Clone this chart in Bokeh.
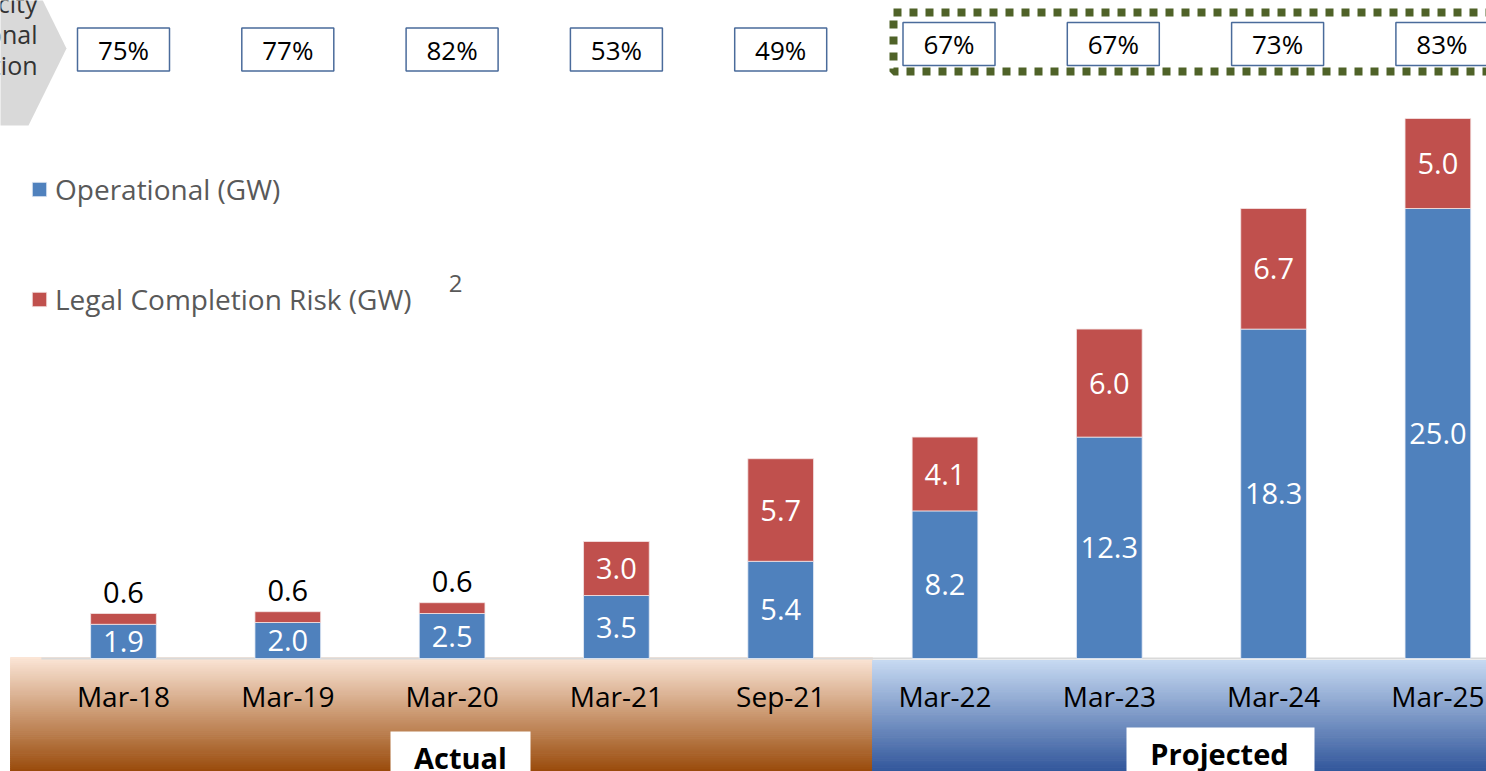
import numpy as np
from bokeh.plotting import figure
from bokeh.models import ColumnDataSource, Range1d, Legend, LegendItem
from bokeh.embed import file_html
from bokeh.resources import INLINE
from bokeh.core.properties import value

# ---------------- data ----------------
categories = ["Mar-18", "Mar-19", "Mar-20", "Mar-21", "Sep-21",
              "Mar-22", "Mar-23", "Mar-24", "Mar-25"]
operational = [1.9, 2.0, 2.5, 3.5, 5.4, 8.2, 12.3, 18.3, 25.0]
legal_risk = [0.6, 0.6, 0.6, 3.0, 5.7, 4.1, 6.0, 6.7, 5.0]
completion_pct = ["75%", "77%", "82%", "53%", "49%", "67%", "67%", "73%", "83%"]
side_label_lines = ["Capacity", "Operational", "Completion"]
period_names = ["Actual", "Projected"]
n_actual = 5

# ---------------- style ----------------
FONT = "Open Sans"
BLUE = "#4F81BD"
RED = "#C0504D"

# layout helpers (reference layout: 164.3 px per category, 18 px per GW)
X0, XS = 123.0, 164.3
Y0, YS = 658.0, 18.0


def dx(px):
    return (px - X0) / XS


def dy(py):
    return (Y0 - py) / YS


W, H = 1486, 771
p = figure(width=W, height=H,
           x_range=Range1d(dx(0), dx(W)),
           y_range=Range1d(dy(H), dy(0)),
           output_backend="svg", toolbar_location=None,
           x_axis_location=None, y_axis_location=None,
           min_border=0, outline_line_color=None,
           background_fill_color="white", border_fill_color="white")
p.grid.visible = False


def hex2rgb(h):
    return tuple(int(h[i:i + 2], 16) for i in (1, 3, 5))


def grad(c1, c2, n):
    a, b = hex2rgb(c1), hex2rgb(c2)
    out = []
    for t in np.linspace(0, 1, n):
        out.append("#%02x%02x%02x" % tuple(int(round(a[k] + (b[k] - a[k]) * t)) for k in range(3)))
    return out


# ---------------- gradient bands ----------------
N = 60
band_split = dx(872)
for (left, right, top_px, c1, c2) in [
    (dx(10), band_split, 657, "#FBE5D6", "#974706"),
    (band_split, dx(1500), 660, "#C6D9F1", "#2E5399"),
]:
    edges = np.linspace(dy(top_px), dy(775), N + 1)
    cols = grad(c1, c2, N)
    p.quad(left=[left] * N, right=[right] * N, top=list(edges[:-1]), bottom=list(edges[1:]),
           fill_color=cols, line_color=cols, line_width=1)

# base line
p.segment(x0=[-0.5], y0=[0], x1=[dx(1500)], y1=[0], line_color="#D9D9D9", line_width=2)

# ---------------- bars ----------------
xs = list(range(len(categories)))
totals = [o + r for o, r in zip(operational, legal_risk)]
src = ColumnDataSource(dict(x=xs, cat=categories, op=operational, risk=legal_risk, total=totals))
r_op = p.vbar(x="x", width=0.40, bottom=0, top="op", source=src,
              fill_color=BLUE, line_color="#E8EEF6", line_width=0.8)
r_risk = p.vbar(x="x", width=0.40, bottom="op", top="total", source=src,
                fill_color=RED, line_color="#F4E4E4", line_width=0.8)

# value labels
op_lab = ColumnDataSource(dict(x=xs, y=[o / 2 for o in operational],
                               t=["%.1f" % o for o in operational]))
p.text(x="x", y="y", text="t", source=op_lab, text_color="white",
       text_font=value(FONT), text_font_size="29px", text_align="center", text_baseline="middle")

risk_y, risk_c = [], []
for o, r in zip(operational, legal_risk):
    if r >= 1:
        risk_y.append(o + r / 2)
        risk_c.append("white")
    else:
        risk_y.append(o + r + 21 / YS)
        risk_c.append("black")
risk_lab = ColumnDataSource(dict(x=xs, y=risk_y, t=["%.1f" % r for r in legal_risk], c=risk_c))
p.text(x="x", y="y", text="t", text_color="c", source=risk_lab,
       text_font=value(FONT), text_font_size="29px", text_align="center", text_baseline="middle")

# category labels
p.text(x=xs, y=[dy(695)] * len(xs), text=categories, text_color="black",
       text_font=value(FONT), text_font_size="28px", text_align="center", text_baseline="middle")

# ---------------- top row: completion % boxes ----------------
p.quad(left=[dx(893)], right=[dx(1530)], top=[dy(12)], bottom=[dy(71)],
       fill_alpha=0, line_color="#4F6228", line_width=8, line_dash="8 8")
box_y = [dy(49) if i < n_actual else dy(43.5) for i in xs]
box_x = [i + (4 / XS if i >= n_actual else 0) for i in xs]
p.rect(x=box_x, y=box_y, width=92 / XS, height=43 / YS, fill_color="white",
       line_color="#4A6B9B", line_width=1.5)
p.text(x=box_x, y=box_y, text=completion_pct, text_color="black",
       text_font=value(FONT), text_font_size="26px", text_align="center", text_baseline="middle")

# left chevron
p.patch(x=[dx(-300), dx(28), dx(66), dx(28), dx(-300)],
        y=[dy(-29), dy(-29), dy(48), dy(125), dy(125)],
        fill_color="#D9D9D9", line_color=None)
p.text(x=[dx(37)] * 3, y=[dy(2), dy(33), dy(64)], text=side_label_lines,
       text_color="#333333", text_font=value(FONT), text_font_size="25px",
       text_align="right", text_baseline="middle")

# ---------------- period boxes ----------------
p.quad(left=[dx(390), dx(1126)], right=[dx(530), dx(1314)],
       top=[dy(731), dy(727)], bottom=[dy(800), dy(800)],
       fill_color="white", line_color=None)
p.text(x=[dx(460), dx(1219)], y=[dy(757), dy(753)], text=period_names, text_color="black",
       text_font=value(FONT), text_font_size="29px", text_font_style="bold",
       text_align="center", text_baseline="middle")

# ---------------- legend ----------------
legend = Legend(items=[LegendItem(label="Operational (GW)", renderers=[r_op]),
                       LegendItem(label="Legal Completion Risk (GW)", renderers=[r_risk])],
                location=(30, 453), orientation="vertical",
                glyph_width=18, glyph_height=18, label_standoff=7,
                spacing=72, label_height=38, padding=0, margin=0,
                border_line_color=None, background_fill_alpha=0,
                label_text_font=FONT, label_text_font_size="28px",
                label_text_color="#595959")
p.add_layout(legend)
p.text(x=[dx(455)], y=[dy(283)], text=["2"], text_color="#595959",
       text_font=value(FONT), text_font_size="24px", text_align="center", text_baseline="middle")

open("out.html", "w").write(file_html(p, INLINE))
